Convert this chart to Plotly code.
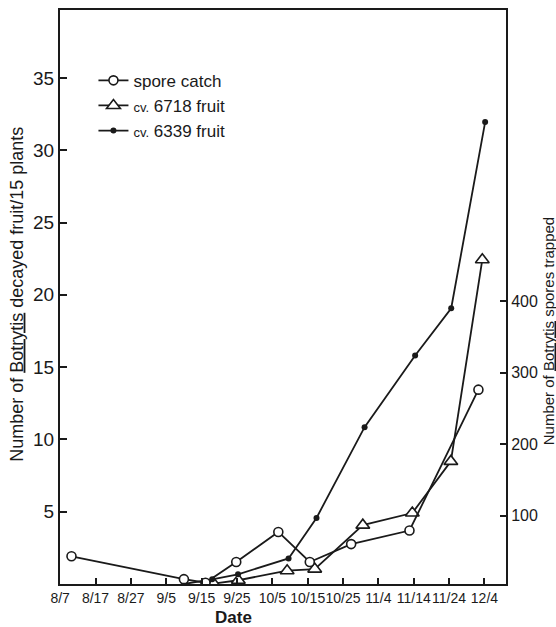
import plotly.graph_objects as go

# x values: days after Aug 7
tick_days = [0, 10, 20, 30, 40, 50, 60, 70, 80, 90, 100, 110, 120]
tick_labels = ["8/7", "8/17", "8/27", "9/5", "9/15", "9/25", "10/5", "10/15",
               "10/25", "11/4", "11/14", "11/24", "12/4"]

spore_days = [3.2, 35.0, 41.1, 49.8, 61.7, 70.6, 82.3, 98.8, 118.3]
spore_counts = [43, 11, 6, 35, 77, 35, 60, 79, 276]

cv6718_days = [43.4, 50.4, 64.2, 72.0, 85.6, 99.6, 110.5, 119.4]
cv6718_fruit = [0.03, 0.26, 0.92, 1.03, 4.07, 4.91, 8.48, 22.43]

cv6339_days = [35.0, 43.0, 50.3, 64.6, 72.5, 86.1, 100.4, 110.6, 120.2]
cv6339_fruit = [0.0, 0.32, 0.67, 1.77, 4.57, 10.85, 15.8, 19.07, 31.95]

left_ticks = [5, 10, 15, 20, 25, 30, 35]
right_ticks = [100, 200, 300, 400]

FONT = "Liberation Sans"
INK = "#1a1a1a"

fig = go.Figure()
fig.add_trace(go.Scatter(
    x=spore_days, y=spore_counts, yaxis="y2", mode="lines+markers",
    name="spore catch", legendgroup="a",
    line=dict(color=INK, width=1.8),
    marker=dict(symbol="circle", size=9, color="white", line=dict(color=INK, width=1.6)),
))
fig.add_trace(go.Scatter(
    x=cv6718_days, y=cv6718_fruit, mode="lines+markers",
    name="<span style='font-size:13px'>cv.</span> 6718 fruit", legendgroup="b",
    line=dict(color=INK, width=1.8),
    marker=dict(symbol="triangle-up", size=12, color="white", line=dict(color=INK, width=1.6)),
))
fig.add_trace(go.Scatter(
    x=cv6339_days, y=cv6339_fruit, mode="lines+markers",
    name="<span style='font-size:13px'>cv.</span> 6339 fruit", legendgroup="c",
    line=dict(color=INK, width=1.8),
    marker=dict(symbol="circle", size=6, color=INK),
))

fig.update_layout(
    width=556, height=627,
    margin=dict(l=60, r=50, t=8, b=43),
    paper_bgcolor="white", plot_bgcolor="white",
    font=dict(family=FONT, color=INK),
    showlegend=True,
    legend=dict(x=0.075, y=0.908, xanchor="left", yanchor="top",
                bgcolor="rgba(0,0,0,0)", font=dict(size=17, family=FONT, color=INK),
                tracegroupgap=0, traceorder="grouped"),
    xaxis=dict(range=[-0.05, 126.1], tickvals=tick_days, ticktext=tick_labels,
               tickangle=0,
               showgrid=False, zeroline=False, showline=True, linecolor=INK,
               linewidth=2, mirror=True, ticks="inside", ticklen=6, tickwidth=1.6,
               tickcolor=INK, tickfont=dict(size=14, family=FONT, color=INK)),
    yaxis=dict(range=[0, 39.7], tickvals=left_ticks, showgrid=False, zeroline=False,
               showline=True, linecolor=INK, linewidth=2, ticks="inside", ticklen=7,
               tickwidth=1.6, tickcolor=INK,
               tickfont=dict(size=19, family=FONT, color=INK)),
    yaxis2=dict(range=[4.2, 807], tickvals=right_ticks, overlaying="y", side="right",
                showgrid=False, zeroline=False, showline=True, linecolor=INK,
                linewidth=2, ticks="inside", ticklen=6, tickwidth=1.6, tickcolor=INK,
                ticklabelstandoff=0,
                tickfont=dict(size=16, family=FONT, color=INK)),
    annotations=[
        dict(text="<b>Date</b>", x=0.39, y=-0.059, xref="paper", yref="paper",
             showarrow=False, font=dict(size=17, family=FONT, color=INK),
             xanchor="center", yanchor="middle"),
        dict(text="Number of <u>Botrytis</u> decayed fruit/15 plants",
             x=-0.097, y=0.505, xref="paper", yref="paper", textangle=-90,
             showarrow=False, font=dict(size=18, family=FONT, color=INK),
             xanchor="center", yanchor="middle"),
        dict(text="Number of <u>Botrytis</u> spores trapped",
             x=1.095, y=0.441, xref="paper", yref="paper", textangle=-90,
             showarrow=False, font=dict(size=15, family=FONT, color=INK),
             xanchor="center", yanchor="middle"),
    ],
)

fig.write_html("out.html")
